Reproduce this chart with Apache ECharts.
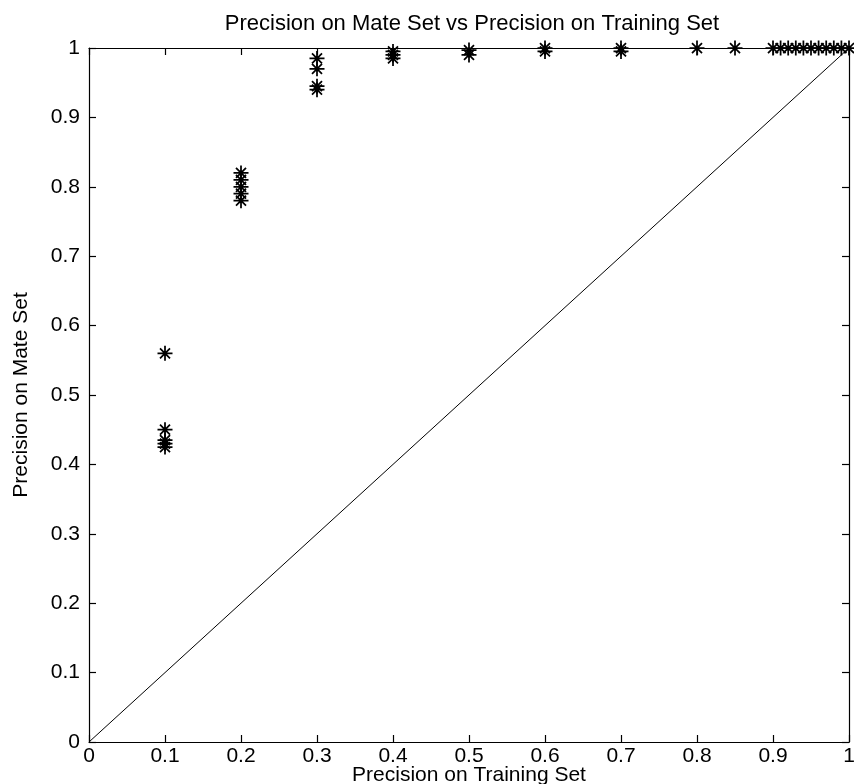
<!DOCTYPE html>
<html>
<head>
<meta charset="utf-8">
<script src="https://cdn.jsdelivr.net/npm/echarts@6/dist/echarts.min.js"></script>
<style>html,body{margin:0;padding:0;background:#fff;}#c{width:854px;height:784px;}</style>
</head>
<body>
<div id="c"></div>
<script>
// Data
var trainX = [0.1,0.1,0.1,0.1,0.1,
  0.2,0.2,0.2,0.2,0.2,
  0.3,0.3,0.3,0.3,
  0.4,0.4,0.4,
  0.5,0.5,
  0.6,0.6,
  0.7,0.7,
  0.8,0.85,
  0.9,0.91,0.92,0.93,0.94,0.95,0.96,0.97,0.98,0.99,1.0];
var mateY = [0.56,0.45,0.435,0.43,0.425,
  0.82,0.81,0.80,0.79,0.78,
  0.985,0.97,0.945,0.94,
  0.995,0.99,0.985,
  0.997,0.99,
  1.0,0.995,
  1.0,0.995,
  1.0,1.0,
  1.0,1.0,1.0,1.0,1.0,1.0,1.0,1.0,1.0,1.0,1.0];
var diagX = [0, 1];
var diagY = [0, 1];
var titleText = 'Precision on Mate Set vs Precision on Training Set';
var xName = 'Precision on Training Set';
var yName = 'Precision on Mate Set';

var pts = trainX.map(function(x,i){return [x, mateY[i]];});
var diag = diagX.map(function(x,i){return [x, diagY[i]];});

var star = 'path://M-0.7,-6 L0.7,-6 L0.7,6 L-0.7,6 Z M-6,-0.7 L6,-0.7 L6,0.7 L-6,0.7 Z M-3.5,-4.5 L4.5,3.5 L3.5,4.5 L-4.5,-3.5 Z M4.5,-3.5 L-3.5,4.5 L-4.5,3.5 L3.5,-4.5 Z';

var font = 'Liberation Sans, Arial, sans-serif';
var axisCommon = {
  type:'value', min:0, max:1, interval:0.1,
  axisLine:{show:true, onZero:false, lineStyle:{color:'#000', width:1.2}},
  axisTick:{show:true, inside:true, length:7, lineStyle:{color:'#000', width:1.2}},
  splitLine:{show:false}
};
function ax(extra){ var o = JSON.parse(JSON.stringify(axisCommon)); for (var k in extra) o[k]=extra[k]; return o; }

var chart = echarts.init(document.getElementById('c'));
chart.setOption({
  animation:false,
  backgroundColor:'#fff',
  title:{text:titleText, left:467, top:8, textAlign:'center',
    textStyle:{fontFamily:font, fontSize:22, fontWeight:'normal', color:'#000'}},
  grid:{left:89, right:5, top:48, bottom:42, containLabel:false, outerBoundsMode:'none'},
  xAxis:[
    ax({position:'bottom', name:xName, nameLocation:'middle', nameGap:23, nameMoveOverlap:false,
      nameTextStyle:{fontFamily:font, fontSize:21, color:'#000'},
      axisLabel:{fontFamily:font, fontSize:21, color:'#000', margin:4}}),
    ax({position:'top', axisLabel:{show:false}})
  ],
  yAxis:[
    ax({position:'left', name:yName, nameLocation:'middle', nameGap:57, nameMoveOverlap:false,
      nameTextStyle:{fontFamily:font, fontSize:21, color:'#000'},
      axisLabel:{fontFamily:font, fontSize:21, color:'#000', margin:9}}),
    ax({position:'right', axisLabel:{show:false}})
  ],
  series:[
    {type:'line', data:diag, showSymbol:false, symbol:'none',
      lineStyle:{color:'#000', width:1}, silent:true},
    {type:'scatter', data:pts, symbol:star, symbolSize:15,
      itemStyle:{color:'#000', opacity:1}}
  ]
});
</script>
</body>
</html>
